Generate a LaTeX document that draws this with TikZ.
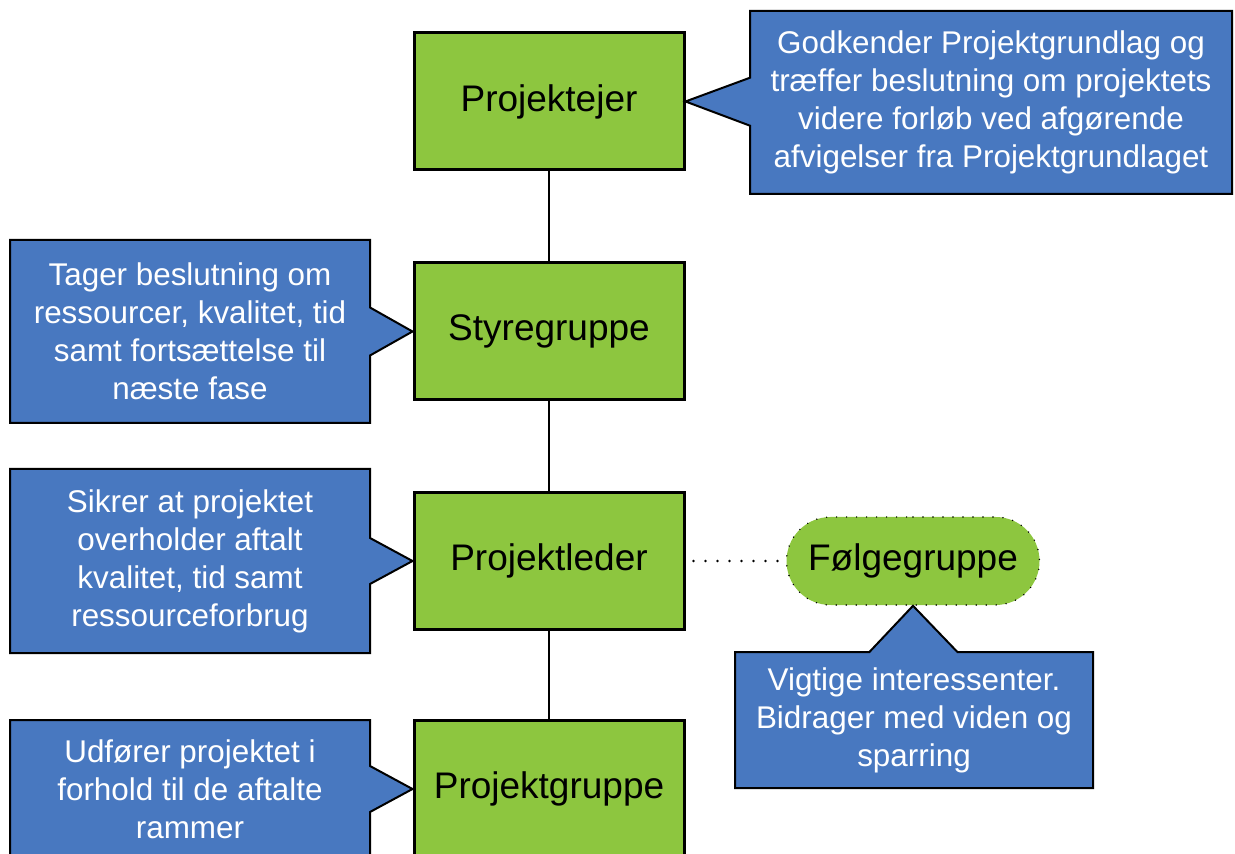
\documentclass[tikz,border=0pt]{standalone}
\usepackage{fontspec}
\setmainfont{Liberation Sans}
\usepackage{tikz}
\usetikzlibrary{shapes.callouts,shapes.misc}
\usepackage{xcolor}
\definecolor{rolecol}{RGB}{141,198,63}
\definecolor{notecol}{RGB}{72,120,192}
\tikzstyle{role}=[draw=black,line width=1.5pt,fill=rolecol,minimum width=135pt,minimum height=68.5pt,inner sep=0pt,font=\fontsize{18.5}{22}\selectfont]
\tikzstyle{note}=[rectangle callout,draw=black,line width=1pt,fill=notecol,text=white,align=center,inner sep=0pt,font=\fontsize{15.7}{19}\selectfont]
\tikzstyle{link}=[line width=0.8pt]
\tikzstyle{dots}=[line cap=round,dash pattern=on 0pt off 6pt]

\begin{document}
\begin{tikzpicture}[x=0.5pt,y=-0.5pt]
  \useasboundingbox (0,0) rectangle (1235,854);
  \clip (0,0) rectangle (1235,854);
  % roles
  \node[role] (ejer)   at (549,101.5) {Projektejer};
  \node[role] (styre)  at (549,331.5) {Styregruppe};
  \node[role] (leder)  at (549,561)   {Projektleder};
  \node[role] (gruppe) at (549,789)   {Projektgruppe};
  \node[rounded rectangle,draw=black,line width=0.8pt,line cap=round,dash pattern=on 0pt off 5pt,
        fill=rolecol,minimum width=126.5pt,minimum height=44pt,inner sep=0pt,
        font=\fontsize{18.5}{22}\selectfont] (folge) at (913,561) {Følgegruppe};
  \draw[link] (ejer) -- (styre);
  \draw[link] (styre) -- (leder);
  \draw[link] (leder) -- (gruppe);
  \draw[dots,line width=1.4pt] ([xshift=4pt]leder.east) -- ([xshift=-3pt]folge.west);
  % notes
  \node[note,minimum width=241pt,minimum height=91.5pt,callout pointer width=24pt,
        callout absolute pointer={(ejer.east)}] (ejerNote) at (991,102.5)
        {Godkender Projektgrundlag og\\træffer beslutning om projektets\\videre forløb ved afgørende\\afvigelser fra Projektgrundlaget};
  \node[note,minimum width=180pt,minimum height=91.5pt,callout pointer width=24pt,
        callout absolute pointer={(styre.west)}] (styreNote) at (190,331.5)
        {Tager beslutning om\\ressourcer, kvalitet, tid\\samt fortsættelse til\\næste fase};
  \node[note,minimum width=180pt,minimum height=92pt,callout pointer width=23pt,
        callout absolute pointer={(leder.west)}] (lederNote) at (190,561)
        {Sikrer at projektet\\overholder aftalt\\kvalitet, tid samt\\ressourceforbrug};
  \node[note,minimum width=180pt,minimum height=69pt,callout pointer width=23pt,
        callout absolute pointer={(gruppe.west)}] (gruppeNote) at (190,789)
        {Udfører projektet i\\forhold til de aftalte\\rammer};
  \node[note,minimum width=179pt,minimum height=68pt,callout pointer width=44pt,
        callout absolute pointer={(folge.south)}] (folgeNote) at (914,720)
        {Vigtige interessenter.\\Bidrager med viden og\\sparring};
\end{tikzpicture}
\end{document}
